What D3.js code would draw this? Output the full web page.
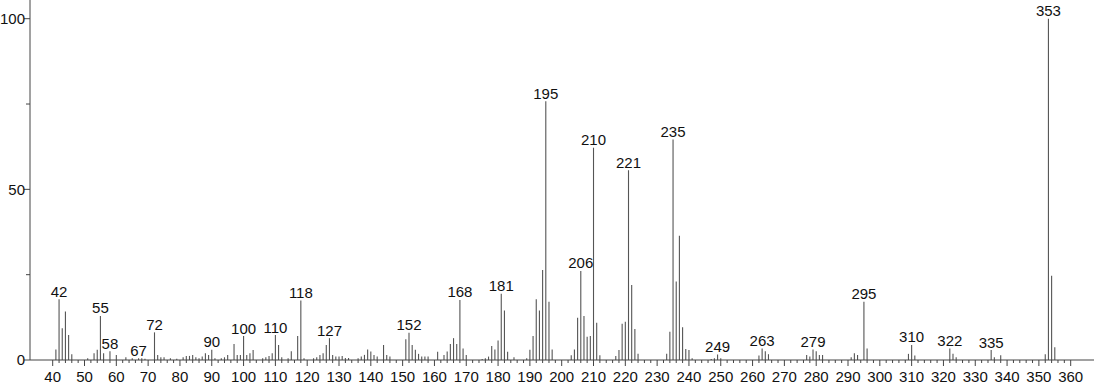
<!DOCTYPE html>
<html>
<head>
<meta charset="utf-8">
<script src="https://cdn.jsdelivr.net/npm/d3@7"></script>
<style>
  body { margin: 0; background: #fff; }
  svg { display: block; font-family: "Liberation Sans", Arial, sans-serif; }
</style>
</head>
<body>
<div id="chart"></div>
<script>
// m/z values and relative intensities
var mz = [41,42,43,44,45,46,51,53,54,55,56,58,60,63,65,67,68,69,72,73,74,75,77,79,
  81,82,83,84,85,86,87,88,89,90,91,93,94,95,97,98,99,100,101,102,103,106,107,108,109,
  110,111,112,114,115,117,118,119,122,123,124,125,126,127,128,129,130,131,132,133,
  136,137,138,139,140,141,142,144,145,146,151,152,153,154,155,156,157,158,161,163,
  164,165,166,167,168,169,170,175,176,177,178,179,180,181,182,183,185,189,190,191,
  192,193,194,195,196,197,203,204,205,206,207,208,209,210,211,212,217,218,219,220,
  221,222,223,224,233,234,235,236,237,238,239,240,241,247,248,249,250,262,263,264,
  265,277,278,279,280,281,282,291,292,293,295,296,309,310,311,322,323,324,335,336,
  338,352,353,354,355];
var intensity = [3.1,17.8,9.3,14.2,7.3,1.7,0.5,2,3,12.9,2,2.6,1.5,0.8,0.5,0.5,0.5,0.4,8.1,1.5,0.8,0.8,0.5,0.4,
  0.8,1.2,1.2,1.5,0.8,0.5,1,2,1.5,3,0.5,0.5,0.8,1.5,4.7,1.5,1.5,7.0,1.5,2,2.9,0.5,0.8,1.2,2,
  7.3,4.4,0.8,0.5,2.6,7.0,17.4,0.5,0.5,0.8,1.5,2,4.4,6.4,1.5,1,1,1.2,0.6,0.6,
  0.5,1,1.5,3.1,2.5,1.5,1,4.4,1.5,1,6.1,8.0,4.4,3,1.8,1,1,1,2.4,1.5,
  2.5,4.7,6.4,4.7,17.6,3.4,1.5,0.3,0.5,1,4.1,3.1,5.7,19.4,14.5,2.4,0.8,0.5,3,7.0,
  17.8,14.5,26.4,75.8,17.1,3.1,1.4,3.1,12.4,26.1,12.9,6.8,7.0,62.2,10.9,1.4,1.2,2.9,10.6,11.2,
  55.6,22.0,9.1,1.8,1.8,8.3,64.6,23.0,36.4,9.6,3.2,2.9,0.5,0.3,0.5,1.6,0.5,1.3,3.4,2.6,
  1.7,1.5,1,3.1,2.6,1.5,1.5,0.8,2,1.5,17.1,3.4,1.8,4.4,1.3,3.4,1.8,0.8,2.9,0.8,
  1.4,1.7,100,24.7,3.7];
var labeled = [42,55,58,67,72,90,100,110,118,127,152,168,181,195,206,210,221,235,249,263,279,295,310,322,335,353];

var xTicks = d3.range(40, 361, 2);
var yTicks = [0, 25, 50, 75, 100];

var width = 1094, height = 384;
var svg = d3.select("#chart").append("svg")
  .attr("width", width)
  .attr("height", height);

var x = d3.scaleLinear().domain([40, 360]).range([52.7, 1070.7]);
var y = d3.scaleLinear().domain([0, 100]).range([360, 18.7]);
var x0 = 30;

var peaks = mz.map(function(m, i){ return {mz: m, v: intensity[i]}; });

// peaks
svg.append("g").selectAll("line")
  .data(peaks)
  .enter().append("line")
  .attr("x1", function(d){ return x(d.mz); })
  .attr("x2", function(d){ return x(d.mz); })
  .attr("y1", y(0))
  .attr("y2", function(d){ return y(d.v); })
  .attr("stroke", "#555")
  .attr("stroke-width", 1.1);

// peak labels
svg.append("g").selectAll("text")
  .data(peaks.filter(function(d){ return labeled.indexOf(d.mz) >= 0; }))
  .enter().append("text")
  .attr("x", function(d){ return x(d.mz); })
  .attr("y", function(d){ return y(d.v) - 2.5; })
  .attr("text-anchor", "middle")
  .attr("font-size", "15px")
  .attr("fill", "#111")
  .text(function(d){ return d.mz; });

// x axis
var xAxis = svg.append("g");
xAxis.append("line")
  .attr("x1", x0).attr("x2", width)
  .attr("y1", y(0)).attr("y2", y(0))
  .attr("stroke", "#444");
xAxis.selectAll("line.tick")
  .data(xTicks)
  .enter().append("line")
  .attr("class", "tick")
  .attr("x1", function(d){ return x(d); })
  .attr("x2", function(d){ return x(d); })
  .attr("y1", y(0))
  .attr("y2", function(d){ return y(0) + (d % 10 == 0 ? 6 : 3); })
  .attr("stroke", "#444");
xAxis.selectAll("text")
  .data(xTicks.filter(function(d){ return d % 10 == 0; }))
  .enter().append("text")
  .attr("x", function(d){ return x(d); })
  .attr("y", y(0) + 21.5)
  .attr("text-anchor", "middle")
  .attr("font-size", "15px")
  .attr("fill", "#111")
  .text(function(d){ return d; });

// y axis
var yAxis = svg.append("g");
yAxis.append("line")
  .attr("x1", x0).attr("x2", x0)
  .attr("y1", 0).attr("y2", y(0))
  .attr("stroke", "#444");
yAxis.selectAll("line.tick")
  .data(yTicks)
  .enter().append("line")
  .attr("class", "tick")
  .attr("x1", function(d){ return x0 - (d % 50 == 0 ? 6 : 4); })
  .attr("x2", x0)
  .attr("y1", function(d){ return y(d); })
  .attr("y2", function(d){ return y(d); })
  .attr("stroke", "#444");
yAxis.selectAll("text")
  .data(yTicks.filter(function(d){ return d % 50 == 0; }))
  .enter().append("text")
  .attr("x", x0 - 5)
  .attr("y", function(d){ return y(d); })
  .attr("dy", "0.36em")
  .attr("text-anchor", "end")
  .attr("font-size", "15px")
  .attr("fill", "#111")
  .text(function(d){ return d; });
</script>
</body>
</html>
